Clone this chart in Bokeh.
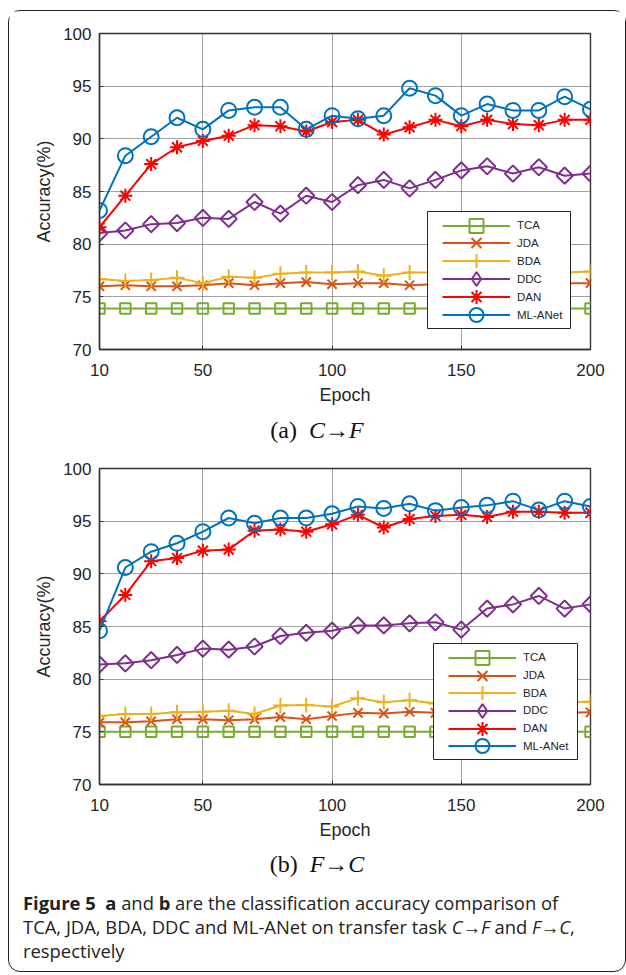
from bokeh.plotting import figure
from bokeh.models import FixedTicker, Div, Legend, LegendItem, BoxAnnotation
from bokeh.layouts import column
from bokeh.embed import file_html
from bokeh.resources import INLINE
import math

# ---------------- data ----------------
epochs = [10, 20, 30, 40, 50, 60, 70, 80, 90, 100, 110, 120, 130, 140, 150, 160, 170, 180, 190, 200]
x_ticks = [10, 50, 100, 150, 200]
y_ticks = [70, 75, 80, 85, 90, 95, 100]
methods = ["TCA", "JDA", "BDA", "DDC", "DAN", "ML-ANet"]

# (a) C -> F
a_tca = [73.9, 73.9, 73.9, 73.9, 73.9, 73.9, 73.9, 73.9, 73.9, 73.9, 73.9, 73.9, 73.9, 73.9, 73.9, 73.9, 73.9, 73.9, 73.9, 73.9]
a_jda = [76.0, 76.1, 76.0, 76.0, 76.1, 76.3, 76.1, 76.3, 76.4, 76.2, 76.3, 76.3, 76.1, 76.2, 76.3, 76.2, 76.3, 76.2, 76.3, 76.3]
a_bda = [76.7, 76.5, 76.6, 76.8, 76.3, 76.9, 76.8, 77.2, 77.3, 77.3, 77.4, 77.0, 77.3, 77.3, 77.2, 77.4, 77.3, 77.2, 77.3, 77.4]
a_ddc = [81.05, 81.3, 81.9, 82.0, 82.5, 82.4, 84.0, 82.9, 84.6, 84.0, 85.6, 86.1, 85.3, 86.1, 87.0, 87.4, 86.7, 87.3, 86.5, 86.7]
a_dan = [81.6, 84.6, 87.6, 89.2, 89.8, 90.3, 91.3, 91.2, 90.7, 91.6, 91.8, 90.4, 91.1, 91.8, 91.2, 91.8, 91.4, 91.3, 91.8, 91.8]
a_mla = [83.2, 88.4, 90.2, 92.0, 90.9, 92.7, 93.0, 93.0, 90.9, 92.2, 91.9, 92.2, 94.8, 94.1, 92.2, 93.3, 92.7, 92.7, 94.0, 92.8]

# (b) F -> C
b_tca = [75.0, 75.0, 75.0, 75.0, 75.0, 75.0, 75.0, 75.0, 75.0, 75.0, 75.0, 75.0, 75.0, 75.0, 75.0, 75.0, 75.0, 75.0, 75.0, 75.0]
b_jda = [75.9, 75.9, 76.0, 76.2, 76.2, 76.1, 76.2, 76.4, 76.2, 76.5, 76.8, 76.75, 76.9, 76.8, 76.8, 76.9, 76.8, 76.9, 76.8, 76.85]
b_bda = [76.5, 76.7, 76.7, 76.85, 76.9, 77.0, 76.7, 77.5, 77.55, 77.4, 78.2, 77.8, 78.0, 77.7, 77.6, 77.7, 77.8, 77.7, 77.8, 77.85]
b_ddc = [81.4, 81.5, 81.8, 82.3, 82.9, 82.8, 83.1, 84.1, 84.4, 84.6, 85.1, 85.1, 85.3, 85.4, 84.7, 86.7, 87.1, 87.9, 86.7, 87.1]
b_dan = [85.5, 88.0, 91.2, 91.5, 92.2, 92.3, 94.1, 94.2, 94.0, 94.7, 95.6, 94.4, 95.2, 95.5, 95.6, 95.4, 95.9, 95.9, 95.8, 95.8]
b_mla = [84.6, 90.6, 92.1, 92.9, 94.0, 95.3, 94.8, 95.3, 95.3, 95.7, 96.4, 96.2, 96.65, 96.0, 96.3, 96.5, 96.9, 96.05, 96.9, 96.4]

# ---------------- styles ----------------
STYLE = {
    "TCA": dict(color="#77AC30", marker="square", size=10.5, angle=0.0, legend_marker=None),
    "JDA": dict(color="#D95319", marker="x", size=13, angle=0.0, legend_marker=None),
    "BDA": dict(color="#EDB120", marker="cross", size=15, angle=0.0, legend_marker=None),
    "DDC": dict(color="#7E2F8E", marker="square", size=11.5, angle=math.pi / 4, legend_marker="diamond"),
    "DAN": dict(color="#FF0000", marker="asterisk", size=14, angle=0.0, legend_marker=None),
    "ML-ANet": dict(color="#0072BD", marker="circle", size=15, angle=0.0, legend_marker=None),
}
SANS = "Liberation Sans"
TXT = "#262626"
W = 616                 # inner width of the framed figure
FRAME_W, FRAME_H = 491, 316
ML, MR = 90, W - 90 - FRAME_W
KEY_H = 35              # legend key box height -> marker size 0.4*35 = 14 px


def make_panel(series, height, top, key_x, first_key_y, key_pitch, box_px):
    bottom = height - top - FRAME_H
    p = figure(width=W, height=height, x_range=(10, 200), y_range=(70, 100),
               output_backend="svg", toolbar_location=None,
               min_border_left=ML, min_border_right=MR,
               min_border_top=top, min_border_bottom=bottom)
    p.background_fill_color = "white"
    p.border_fill_color = "white"
    p.outline_line_color = "#333333"
    p.outline_line_width = 1.4

    keys = []
    for name, ys in zip(methods, series):
        st = STYLE[name]
        r1 = p.line(epochs, ys, line_color=st["color"], line_width=2)
        r2 = p.scatter(epochs, ys, marker=st["marker"], size=st["size"], angle=st["angle"],
                       line_color=st["color"], fill_color=None, line_width=2)
        if st["legend_marker"]:
            r3 = p.scatter(epochs, ys, marker=st["legend_marker"], size=st["size"],
                           line_color=st["color"], fill_color=None, line_width=2, visible=False)
            keys.append((name, [r1, r3]))
        else:
            keys.append((name, [r1, r2]))

    for ax in (p.xaxis[0], p.yaxis[0]):
        ax.major_label_text_font = SANS
        ax.major_label_text_font_size = "17px"
        ax.major_label_text_color = TXT
        ax.axis_label_text_font = SANS
        ax.axis_label_text_font_size = "18px"
        ax.axis_label_text_font_style = "normal"
        ax.axis_label_text_color = TXT
        ax.axis_line_color = "#333333"
        ax.axis_line_width = 1.4
        ax.major_tick_in = 4
        ax.major_tick_out = 0
        ax.minor_tick_line_color = None
        ax.major_tick_line_color = "#333333"
    p.xaxis.ticker = FixedTicker(ticks=x_ticks)
    p.yaxis.ticker = FixedTicker(ticks=y_ticks)
    p.xaxis.axis_label = "Epoch"
    p.yaxis.axis_label = "Accuracy(%)"
    p.xaxis.major_label_standoff = 14
    p.yaxis.major_label_standoff = 8
    p.xaxis.axis_label_standoff = 6
    p.yaxis.axis_label_standoff = 6

    for g in (p.xgrid[0], p.ygrid[0]):
        g.grid_line_color = "#333333"
        g.grid_line_alpha = 0.9
        g.grid_line_dash = "1 1"
        g.grid_line_width = 1

    # legend box (white, bordered) placed via the plot's own scales
    l_px, r_px, t_px, b_px = box_px
    sx = 190.0 / FRAME_W
    sy = 30.0 / FRAME_H
    box = BoxAnnotation(left=10 + l_px * sx, right=10 + r_px * sx,
                        top=100 - t_px * sy, bottom=100 - b_px * sy,
                        fill_color="white", fill_alpha=1.0,
                        line_color="#262626", line_width=1, line_alpha=1.0)
    p.add_layout(box)

    # one key per legend row, so the markers can be drawn at full size
    for k, (name, rends) in enumerate(keys):
        centre = first_key_y + k * key_pitch          # px from the frame top
        loc = (key_x, FRAME_H - centre - KEY_H / 2.0)  # bottom-left, from frame bottom-left
        leg = Legend(items=[LegendItem(label=name, renderers=rends)], location=loc)
        leg.label_text_font = SANS
        leg.label_text_font_size = "11.5px"
        leg.label_text_color = TXT
        leg.glyph_width = 68
        leg.glyph_height = KEY_H
        leg.label_height = KEY_H
        leg.label_standoff = 7
        leg.padding = 0
        leg.margin = 0
        leg.border_line_color = None
        leg.background_fill_alpha = 0.0
        p.add_layout(leg, "center")
    return p


# box_px: legend box edges in pixels from the frame's left / top
pa = make_panel([a_tca, a_jda, a_bda, a_ddc, a_dan, a_mla], 407, 22, 343, 192.0, 17.9, (328, 471, 178, 295))
pb = make_panel([b_tca, b_jda, b_bda, b_ddc, b_dan, b_mla], 385, 10, 349, 189.3, 17.7, (334, 478, 175, 291))

SERIF = "'Liberation Serif', 'Times New Roman', serif"
sub_a = Div(text=(f'<div style="width:{W}px;box-sizing:border-box;text-align:center;'
                  f'font-family:{SERIF};font-size:24px;line-height:24px;padding-top:0px;color:#111;">'
                  '(a)&nbsp;&nbsp;<i>C</i>&#8594;<i>F</i></div>'), width=W, height=40, margin=0)
sub_b = Div(text=(f'<div style="width:{W}px;box-sizing:border-box;text-align:center;'
                  f'font-family:{SERIF};font-size:24px;line-height:24px;padding-top:9px;color:#111;">'
                  '(b)&nbsp;&nbsp;<i>F</i>&#8594;<i>C</i></div>'), width=W, height=42, margin=0)
caption = Div(text=('<div style="width:600px;padding-left:14px;padding-top:6px;font-family:\'Open Sans\';'
                    'font-size:18.4px;line-height:24px;color:#222;">'
                    '<b>Figure 5</b>&nbsp; <b>a</b> and <b>b</b> are the classification accuracy comparison of<br>'
                    'TCA, JDA, BDA, DDC and ML-ANet on transfer task <i>C</i>&#8594;<i>F</i> and <i>F</i>&#8594;<i>C</i>,<br>'
                    'respectively</div>'), width=W, height=86, margin=0)

layout = column(pa, sub_a, pb, sub_b, caption, spacing=0, margin=(10, 0, 0, 8),
                styles={"border": "1px solid #222", "border-radius": "12px", "background": "white"})

open("out.html", "w").write(file_html(layout, INLINE))
